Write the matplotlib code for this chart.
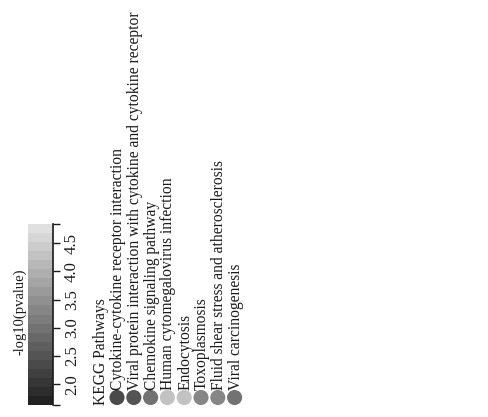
import numpy as np
import matplotlib.pyplot as plt
import matplotlib as mpl
from matplotlib.colors import LinearSegmentedColormap, Normalize

plt.rcParams['font.family'] = ['Liberation Serif', 'DejaVu Serif']

# KEGG pathways and their -log10(pvalue)
pathways = [
    "Cytokine-cytokine receptor interaction",
    "Viral protein interaction with cytokine and cytokine receptor",
    "Chemokine signaling pathway",
    "Human cytomegalovirus infection",
    "Endocytosis",
    "Toxoplasmosis",
    "Fluid shear stress and atherosclerosis",
    "Viral carcinogenesis",
]
neglog_p = [2.35, 2.50, 3.05, 4.20, 4.20, 3.35, 3.35, 3.05]
cbar_ticks = [2.0, 2.5, 3.0, 3.5, 4.0, 4.5]
vmin, vmax = 1.63, 4.84

cmap = LinearSegmentedColormap.from_list("grey_steps", ["#222222", "#e0e0e0"], N=20)
norm = Normalize(vmin=vmin, vmax=vmax)
ink = '#1a1a1a'

W, H = 488, 417
fig = plt.figure(figsize=(W / 100, H / 100), dpi=100)

# pixel-space canvas for the rotated legend
ax = fig.add_axes([0, 0, 1, 1])
ax.set_xlim(0, W)
ax.set_ylim(H, 0)
ax.axis('off')

# colour bar
cax = fig.add_axes([28 / W, (H - 405) / H, 25 / W, 181 / H])
cb = fig.colorbar(mpl.cm.ScalarMappable(norm=norm, cmap=cmap), cax=cax)
cb.outline.set_visible(False)
cb.set_ticks(cbar_ticks)
cb.set_ticklabels([f"{t:.1f}" for t in cbar_ticks])
cax.yaxis.set_ticks([vmin, vmax], minor=True)
cax.tick_params(which='both', direction='out', length=5, width=1, color=ink)
cax.tick_params(axis='y', labelsize=12, labelrotation=90, pad=3, labelcolor=ink)
for lab in cax.get_yticklabels():
    lab.set_va('center')
cax.axvline(1.0, color=ink, lw=1.2, clip_on=False)

ax.text(20, 312, "-log10(pvalue)", rotation=90, ha='center', va='center',
        fontsize=10.5, color=ink)

# pathway legend
x0, dx = 117, 16.8
xs = x0 + dx * np.arange(len(pathways))
ax.scatter(xs, np.full(len(pathways), 397.5), s=118, c=neglog_p, cmap=cmap,
           norm=norm, edgecolors='none')
ax.text(x0 - dx + 1, 405, "KEGG Pathways", rotation=90, ha='center', va='bottom',
        fontsize=11.2, color=ink)
for x, name in zip(xs, pathways):
    ax.text(x + 1, 390, name, rotation=90, ha='center', va='bottom',
            fontsize=11.2, color=ink)

fig.savefig("out.png", dpi=100)
